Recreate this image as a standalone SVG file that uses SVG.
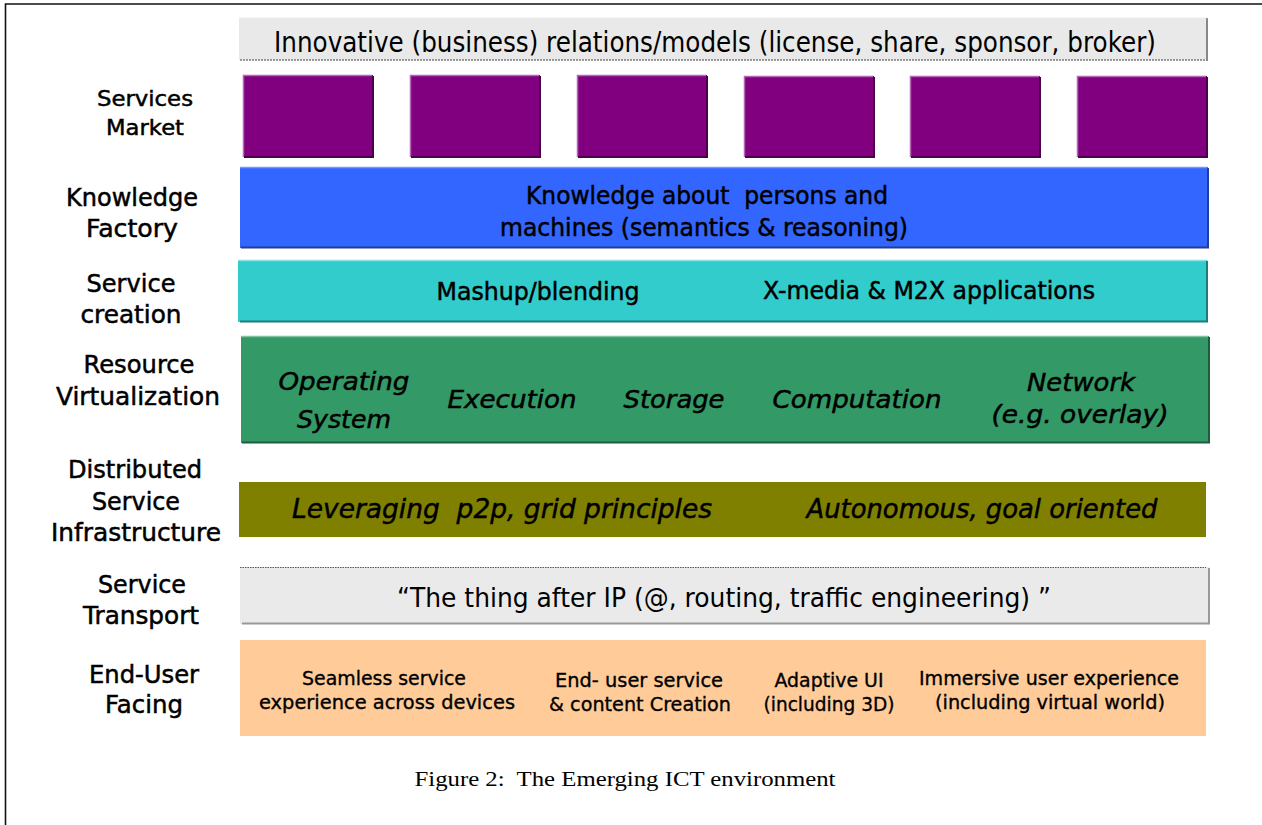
<svg xmlns="http://www.w3.org/2000/svg" width="1262" height="825" viewBox="0 0 1262 825">
<style>
  text { font-family: "DejaVu Sans", "Liberation Sans", sans-serif; fill: #000; text-anchor: middle; white-space: pre; }
  .hv { stroke: #000; stroke-width: 0.5px; }
  .lbl { font-size: 24px; }
  .bar { font-size: 24px; }
  .it { font-style: italic; }
  .eu { font-size: 19px; stroke: #000; stroke-width: 0.35px; }
  .cap { font-family: "Liberation Serif", "Times New Roman", serif; font-size: 22px; }
  .frame { fill: none; stroke: #111; stroke-width: 1.6; }
  .purple { fill: #800080; }
  .pl { stroke: #b366b3; stroke-width: 1.5; fill: none; }
  .pd { stroke: #4a004a; stroke-width: 2; fill: none; }
</style>
<rect x="0" y="0" width="1262" height="825" fill="#fff"/>
<path class="frame" d="M5.5,825 V4 H1262"/>

<g id="connectors"></g>

<g id="labels">
  <text class="lbl hv" style="font-size:22px" x="145" y="106" textLength="96" lengthAdjust="spacingAndGlyphs">Services</text>
  <text class="lbl hv" style="font-size:22px" x="145" y="135" textLength="78" lengthAdjust="spacingAndGlyphs">Market</text>
  <text class="lbl hv" x="132" y="206" textLength="132" lengthAdjust="spacingAndGlyphs">Knowledge</text>
  <text class="lbl hv" x="132" y="237" textLength="92" lengthAdjust="spacingAndGlyphs">Factory</text>
  <text class="lbl hv" x="131" y="292" textLength="89" lengthAdjust="spacingAndGlyphs">Service</text>
  <text class="lbl hv" x="131" y="323" textLength="101" lengthAdjust="spacingAndGlyphs">creation</text>
  <text class="lbl hv" x="139" y="373" textLength="111" lengthAdjust="spacingAndGlyphs">Resource</text>
  <text class="lbl hv" x="138" y="405" textLength="164" lengthAdjust="spacingAndGlyphs">Virtualization</text>
  <text class="lbl hv" x="135" y="478" textLength="134" lengthAdjust="spacingAndGlyphs">Distributed</text>
  <text class="lbl hv" x="136" y="510" textLength="88" lengthAdjust="spacingAndGlyphs">Service</text>
  <text class="lbl hv" x="136" y="541" textLength="170" lengthAdjust="spacingAndGlyphs">Infrastructure</text>
  <text class="lbl hv" x="142" y="593" textLength="88" lengthAdjust="spacingAndGlyphs">Service</text>
  <text class="lbl hv" x="141" y="624" textLength="116" lengthAdjust="spacingAndGlyphs">Transport</text>
  <text class="lbl hv" x="144" y="683" textLength="110" lengthAdjust="spacingAndGlyphs">End-User</text>
  <text class="lbl hv" x="144" y="713" textLength="78" lengthAdjust="spacingAndGlyphs">Facing</text>
</g>

<g id="business-models">
  <rect x="239" y="17" width="968" height="43" fill="#e9e9e9"/>
  <path d="M239,17.5 H1206" stroke="#f8f8f8" stroke-width="1"/>
  <path d="M240,60 H1207 V18" stroke="#7a7a7a" stroke-width="1.5" stroke-dasharray="2 1" fill="none"/>
  <path d="M1207,19 V61" stroke="#888" stroke-width="2" fill="none"/>
  <text x="715" y="52" style="font-size:28px" textLength="882" lengthAdjust="spacingAndGlyphs">Innovative (business) relations/models (license, share, sponsor, broker)</text>
</g>

<g id="services-market">
  <rect class="purple" x="243" y="75" width="130" height="82"/>
  <path class="pl" d="M243.5,157 V75.5 H372"/>
  <path class="pd" d="M244,157 H373 V76"/>
  <rect class="purple" x="410" y="75" width="130" height="82"/>
  <path class="pl" d="M410.5,157 V75.5 H539"/>
  <path class="pd" d="M411,157 H540 V76"/>
  <rect class="purple" x="577" y="75" width="130" height="82"/>
  <path class="pl" d="M577.5,157 V75.5 H706"/>
  <path class="pd" d="M578,157 H707 V76"/>
  <rect class="purple" x="744" y="76" width="130" height="81"/>
  <path class="pl" d="M744.5,157 V76.5 H873"/>
  <path class="pd" d="M745,157 H874 V77"/>
  <rect class="purple" x="910" y="76" width="130" height="81"/>
  <path class="pl" d="M910.5,157 V76.5 H1039"/>
  <path class="pd" d="M911,157 H1040 V77"/>
  <rect class="purple" x="1077" y="76" width="130" height="81"/>
  <path class="pl" d="M1077.5,157 V76.5 H1206"/>
  <path class="pd" d="M1078,157 H1207 V77"/>
</g>

<g id="knowledge-factory">
  <rect x="240" y="167" width="968" height="81" fill="#3366ff"/>
  <path d="M240,167.5 H1207" stroke="#7396ff" stroke-width="1.5"/>
  <path d="M241,247.5 H1208 V168" stroke="#1f3d99" stroke-width="2" fill="none"/>
  <text class="bar hv" x="707" y="204" textLength="362" lengthAdjust="spacingAndGlyphs">Knowledge about  persons and</text>
  <text class="bar hv" x="704" y="236" textLength="408" lengthAdjust="spacingAndGlyphs">machines (semantics &amp; reasoning)</text>
</g>

<g id="service-creation">
  <rect x="238" y="260" width="969" height="62" fill="#33cccc"/>
  <path d="M238,260.5 H1206" stroke="#8ae0e0" stroke-width="1.5"/>
  <path d="M240,321.5 H1207 V261" stroke="#1f7a7a" stroke-width="2" fill="none"/>
  <text class="bar hv" x="538" y="300" textLength="203" lengthAdjust="spacingAndGlyphs">Mashup/blending</text>
  <text class="bar hv" x="929" y="299" textLength="332" lengthAdjust="spacingAndGlyphs">X-media &amp; M2X applications</text>
</g>

<g id="resource-virtualization">
  <rect x="241" y="336" width="968" height="107" fill="#339966"/>
  <path d="M241,336.5 H1208" stroke="#85c2a3" stroke-width="1.5"/>
  <path d="M242,442.5 H1209 V337" stroke="#1f5c3d" stroke-width="2" fill="none"/>
  <text class="it hv" style="font-size:25px" x="344" y="390" textLength="131" lengthAdjust="spacingAndGlyphs">Operating</text>
  <text class="it hv" style="font-size:25px" x="344" y="428" textLength="94" lengthAdjust="spacingAndGlyphs">System</text>
  <text class="it hv" style="font-size:25px" x="512" y="408" textLength="129" lengthAdjust="spacingAndGlyphs">Execution</text>
  <text class="it hv" style="font-size:25px" x="674" y="408" textLength="101" lengthAdjust="spacingAndGlyphs">Storage</text>
  <text class="it hv" style="font-size:25px" x="857" y="408" textLength="169" lengthAdjust="spacingAndGlyphs">Computation</text>
  <text class="it hv" style="font-size:25px" x="1081" y="391" textLength="108" lengthAdjust="spacingAndGlyphs">Network</text>
  <text class="it hv" style="font-size:25px" x="1080" y="423" textLength="177" lengthAdjust="spacingAndGlyphs">(e.g. overlay)</text>
</g>

<g id="distributed-service-infrastructure">
  <rect x="239" y="482" width="967" height="55" fill="#808000"/>
  <text class="it hv" style="font-size:27px" x="502" y="518" textLength="420" lengthAdjust="spacingAndGlyphs">Leveraging  p2p, grid principles</text>
  <text class="it hv" style="font-size:27px" x="982" y="518" textLength="351" lengthAdjust="spacingAndGlyphs">Autonomous, goal oriented</text>
</g>

<g id="service-transport">
  <rect x="240" y="567" width="969" height="57" fill="#eaeaea"/>
  <path d="M240,567.5 H1206" stroke="#555" stroke-width="1" stroke-dasharray="1.5 1"/>
  <path d="M242,623.5 H1209 V568" stroke="#999" stroke-width="2" fill="none"/>
  <text style="font-size:27px" x="724" y="607" textLength="654" lengthAdjust="spacingAndGlyphs">“The thing after IP (@, routing, traffic engineering) ”</text>
</g>

<g id="end-user-facing">
  <rect x="240" y="640" width="966" height="96" fill="#ffcc99"/>
  <text class="eu" x="384" y="685" textLength="164" lengthAdjust="spacingAndGlyphs">Seamless service</text>
  <text class="eu" x="387" y="709" textLength="256" lengthAdjust="spacingAndGlyphs">experience across devices</text>
  <text class="eu" x="639" y="687" textLength="168" lengthAdjust="spacingAndGlyphs">End- user service</text>
  <text class="eu" x="640" y="711" textLength="182" lengthAdjust="spacingAndGlyphs">&amp; content Creation</text>
  <text class="eu" x="829" y="687" textLength="109" lengthAdjust="spacingAndGlyphs">Adaptive UI</text>
  <text class="eu" x="829" y="711" textLength="131" lengthAdjust="spacingAndGlyphs">(including 3D)</text>
  <text class="eu" x="1049" y="685" textLength="260" lengthAdjust="spacingAndGlyphs">Immersive user experience</text>
  <text class="eu" x="1050" y="709" textLength="230" lengthAdjust="spacingAndGlyphs">(including virtual world)</text>
</g>

<g id="caption">
  <text class="cap" x="625" y="786" textLength="421" lengthAdjust="spacingAndGlyphs">Figure 2:  The Emerging ICT environment</text>
</g>
</svg>
